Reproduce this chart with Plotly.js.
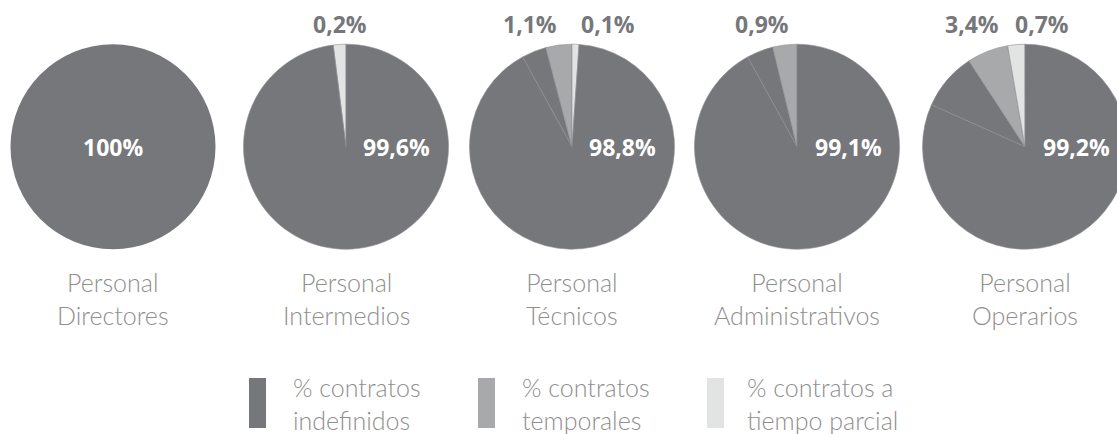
<!DOCTYPE html>
<html>
<head>
<meta charset="utf-8">
<script src="https://cdn.plot.ly/plotly-3.0.1.min.js"></script>
<style>
html, body { margin: 0; padding: 0; overflow: hidden; background: #ffffff; width: 1117px; height: 434px; }
#chart { width: 1140px; height: 434px; }
</style>
</head>
<body>
<div id="chart"></div>
<script>
// ---- data ----
const categories = ['Directores', 'Intermedios', 'Técnicos', 'Administrativos', 'Operarios'];
const groupPrefix = 'Personal';
// slice sizes (%) as drawn in the pies
const indefinidos = [100, 98.0, 90.9, 92.0, 81.7];
const indefinidosSegment = [0, 0, 3.9, 4.2, 9.1];
const temporales = [0, 0, 4.1, 3.8, 6.5];
const parcial = [0, 2.0, 1.1, 0, 2.7];
// printed value labels
const indefinidosLabels = ['100%', '99,6%', '98,8%', '99,1%', '99,2%'];
const temporalesLabels = [null, null, '1,1%', '0,9%', '3,4%'];
const parcialLabels = [null, '0,2%', '0,1%', null, '0,7%'];
const legendLabels = ['% contratos<br>indefinidos', '% contratos<br>temporales', '% contratos a<br>tiempo parcial'];

// ---- style / layout ----
const W = 1140, H = 434;
const DARK = '#76777b', MID = '#a8a9ab', LIGHT = '#e2e3e3';
const centersX = [113, 346, 572, 797, 1025];
const centerY = 146.7, R = 102.5;
const rotations = [0, -7.2, -28.8, -28.8, -65.9];
const innerShift = [0, 50, 50, 51, 51];
const tempShift = [0, 0, -42, -35, -53];
const parcShift = [0, -6, 36, 0, 17];
const legendX = [249, 478, 707];
const legendTextX = [291, 520, 745];
const legendColors = [DARK, MID, LIGHT];

const px = x => x / W;
const py = y => 1 - y / H;

const traces = [];
const annotations = [];
const shapes = [];

categories.forEach((cat, i) => {
  const vals = [indefinidosSegment[i], temporales[i], parcial[i], indefinidos[i]];
  const cols = [DARK, MID, LIGHT, DARK];
  const v = [], c = [], l = [];
  vals.forEach((val, k) => { if (val > 0) { v.push(val); c.push(cols[k]); l.push('s' + k); } });
  traces.push({
    type: 'pie',
    values: v,
    labels: l,
    sort: false,
    direction: 'clockwise',
    rotation: rotations[i],
    textinfo: 'none',
    hoverinfo: 'skip',
    showlegend: false,
    marker: { colors: c, line: { color: '#8e8f93', width: v.length > 1 ? 0.6 : 0 } },
    domain: { x: [px(centersX[i] - R), px(centersX[i] + R)], y: [py(centerY + R), py(centerY - R)] }
  });
  annotations.push({
    xref: 'paper', yref: 'paper', x: px(centersX[i] + innerShift[i]), y: py(147),
    text: indefinidosLabels[i], showarrow: false, xanchor: 'center', yanchor: 'middle',
    font: { family: 'Open Sans, sans-serif', size: 23, color: '#ffffff', weight: 'bold' }
  });
  if (temporalesLabels[i]) {
    annotations.push({
      xref: 'paper', yref: 'paper', x: px(centersX[i] + tempShift[i]), y: py(24),
      text: temporalesLabels[i], showarrow: false, xanchor: 'center', yanchor: 'middle',
      font: { family: 'Open Sans, sans-serif', size: 23, color: DARK, weight: 'bold' }
    });
  }
  if (parcialLabels[i]) {
    annotations.push({
      xref: 'paper', yref: 'paper', x: px(centersX[i] + parcShift[i]), y: py(24),
      text: parcialLabels[i], showarrow: false, xanchor: 'center', yanchor: 'middle',
      font: { family: 'Open Sans, sans-serif', size: 23, color: DARK, weight: 'bold' }
    });
  }
  annotations.push({
    xref: 'paper', yref: 'paper', x: px(centersX[i]), y: py(298),
    text: groupPrefix + '<br>' + cat, showarrow: false, xanchor: 'center', yanchor: 'middle', align: 'center',
    font: { family: 'Lato, sans-serif', size: 25, color: '#8f8f8f', weight: 300 }
  });
});

legendLabels.forEach((t, k) => {
  shapes.push({
    type: 'rect', xref: 'paper', yref: 'paper',
    x0: px(legendX[k]), x1: px(legendX[k] + 17), y0: py(428), y1: py(378),
    fillcolor: legendColors[k], line: { width: 0 }
  });
  annotations.push({
    xref: 'paper', yref: 'paper', x: px(legendTextX[k]), y: py(403),
    text: t, showarrow: false, xanchor: 'left', yanchor: 'middle', align: 'left',
    font: { family: 'Lato, sans-serif', size: 25, color: '#8f8f8f', weight: 300 }
  });
});

const layout = {
  width: W, height: H,
  margin: { l: 0, r: 0, t: 0, b: 0 },
  paper_bgcolor: '#ffffff',
  showlegend: false,
  annotations: annotations,
  shapes: shapes
};

Plotly.newPlot('chart', traces, layout, { staticPlot: true, displayModeBar: false });
</script>
</body>
</html>
